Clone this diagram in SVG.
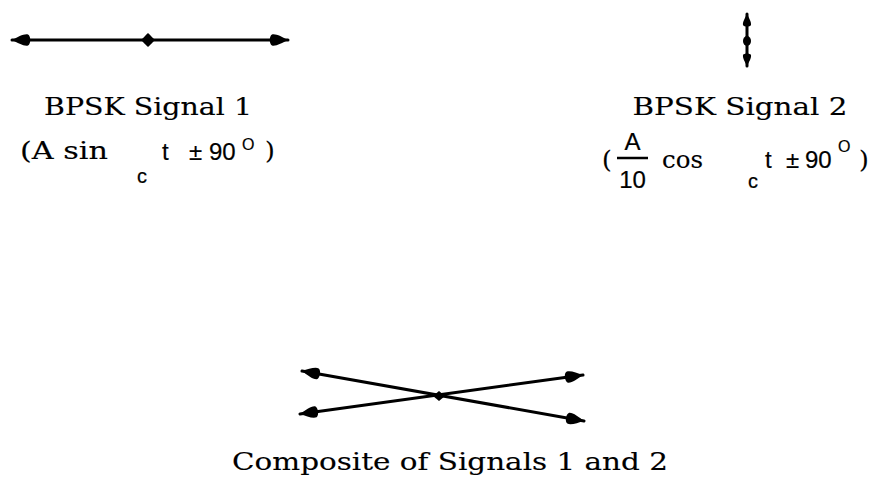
<svg xmlns="http://www.w3.org/2000/svg" width="880" height="482" viewBox="0 0 880 482">
<style>
  .ln { stroke:#000; stroke-width:3; fill:none; stroke-linecap:round; }
  .dot { fill:#000; }
  .serif { font-family:"DejaVu Serif","Liberation Serif",serif; font-size:25px; fill:#000; stroke:#000; stroke-width:0.15; }
  .sans { font-family:"Liberation Sans","DejaVu Sans",sans-serif; font-size:24px; fill:#000; stroke:#000; stroke-width:0.2; }
  .sub { font-family:"Liberation Sans","DejaVu Sans",sans-serif; font-size:20px; fill:#000; stroke:#000; stroke-width:0.2; }
  .sup { font-family:"Liberation Sans","DejaVu Sans",sans-serif; font-size:16px; fill:#000; stroke:#000; stroke-width:0.2; }
</style>
<defs>
  <marker id="head" markerUnits="userSpaceOnUse" markerWidth="22" markerHeight="16" refX="20" refY="7" orient="auto-start-reverse" overflow="visible">
    <path d="M20,7 C14,4 8,0.5 4,1.5 C1,3 1,11 4,12.5 C8,13.5 14,10 20,7 Z" fill="#000"/>
  </marker>
  <marker id="headS" markerUnits="userSpaceOnUse" markerWidth="16" markerHeight="12" refX="14" refY="5" orient="auto-start-reverse" overflow="visible">
    <path d="M14,5 C10,3 6,0.5 3,1 C1,2 1,8 3,9 C6,9.5 10,7 14,5 Z" fill="#000"/>
  </marker>
</defs>
<rect width="880" height="482" fill="#fff"/>

<g id="signal1">
  <line class="ln" x1="12" y1="40" x2="288" y2="40" marker-start="url(#head)" marker-end="url(#head)"/>
  <path class="dot" d="M148,33 C151,36 153,38 155,40 C153,42 151,44 148,47 C145,44 143,42 141,40 C143,38 145,36 148,33 Z"/>
  <text class="serif" x="148" y="115" text-anchor="middle" textLength="208" lengthAdjust="spacingAndGlyphs">BPSK Signal 1</text>
  <text class="serif" x="20" y="159" textLength="88" lengthAdjust="spacingAndGlyphs">(A sin</text>
  <text class="sub" x="137" y="183">c</text>
  <text class="sans" x="162" y="160">t</text>
  <text class="sans" x="189" y="160">±</text>
  <text class="sans" x="209" y="160">90</text>
  <text class="sup" x="242" y="150">O</text>
  <text class="serif" x="265" y="159">)</text>
</g>

<g id="signal2">
  <line class="ln" x1="747" y1="14" x2="747" y2="66" marker-start="url(#headS)" marker-end="url(#headS)"/>
  <ellipse class="dot" cx="747" cy="41" rx="4" ry="5"/>
  <text class="serif" x="740" y="115" text-anchor="middle" textLength="215" lengthAdjust="spacingAndGlyphs">BPSK Signal 2</text>
  <text class="serif" x="602" y="168">(</text>
  <text class="sans" x="632.5" y="150" text-anchor="middle">A</text>
  <line x1="617" y1="158" x2="648" y2="158" stroke="#000" stroke-width="2.5"/>
  <text class="sans" x="632.5" y="188" text-anchor="middle">10</text>
  <text class="serif" x="662" y="168" textLength="41" lengthAdjust="spacingAndGlyphs">cos</text>
  <text class="sub" x="748" y="188">c</text>
  <text class="sans" x="765" y="168">t</text>
  <text class="sans" x="786" y="168">±</text>
  <text class="sans" x="805" y="168">90</text>
  <text class="sup" x="838" y="152">O</text>
  <text class="serif" x="859" y="168">)</text>
</g>

<g id="composite">
  <g id="connectors">
    <line class="ln" x1="302" y1="371" x2="584" y2="421" marker-start="url(#head)" marker-end="url(#head)"/>
    <line class="ln" x1="300" y1="414" x2="583" y2="375" marker-start="url(#head)" marker-end="url(#head)"/>
  </g>
  <path class="dot" d="M439,391 L445,396 L439,401 L433,396 Z"/>
  <text class="serif" x="450" y="470" text-anchor="middle" textLength="436" lengthAdjust="spacingAndGlyphs">Composite of Signals 1 and 2</text>
</g>
</svg>
